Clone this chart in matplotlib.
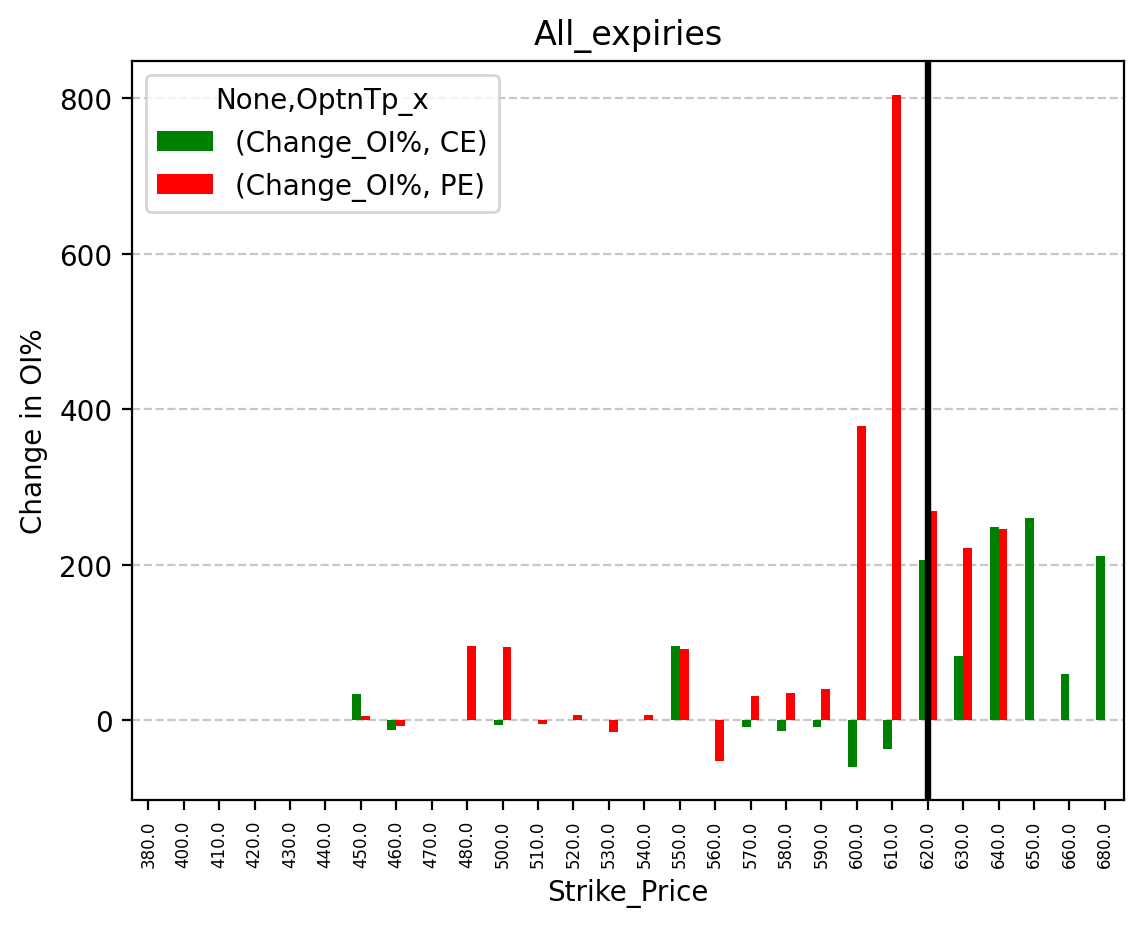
import numpy as np
import matplotlib
matplotlib.use("Agg")
import matplotlib.pyplot as plt

nan = np.nan

# strike prices (x categories)
strikes = [380.0, 400.0, 410.0, 420.0, 430.0, 440.0, 450.0, 460.0, 470.0, 480.0,
           500.0, 510.0, 520.0, 530.0, 540.0, 550.0, 560.0, 570.0, 580.0, 590.0,
           600.0, 610.0, 620.0, 630.0, 640.0, 650.0, 660.0, 680.0]

# Change in OI% for calls / puts
ce_chg = [nan, nan, nan, nan, nan, nan, 33, -13, nan, nan,
          -6, nan, nan, nan, nan, 95, nan, -9, -14, -9,
          -60, -37, 206, 82, 248, 260, 59, 211]
pe_chg = [nan, nan, nan, nan, nan, nan, 5, -7.5, nan, 95,
          94, -5, 6, -15, 6, 91.5, -52.5, 30.5, 35, 39.5,
          378, 805, 269, 221, 246, nan, nan, nan]

spot_strike = 620.0

fig = plt.figure(figsize=(5.715, 4.64), dpi=200)
ax = fig.add_axes([0.1155, 0.1366, 0.8679, 0.7966])

x = np.arange(len(strikes))
w = 0.25
ax.bar(x - w / 2, ce_chg, width=w, color="green", label="(Change_OI%, CE)")
ax.bar(x + w / 2, pe_chg, width=w, color="red", label="(Change_OI%, PE)")

ax.set_xticks(x)
ax.set_xticklabels([str(s) for s in strikes], rotation=90, fontsize=6)
ax.set_xlim(-0.46, len(strikes) - 0.46)

# vertical line at current strike
ax.axvline(strikes.index(spot_strike), color="black", linewidth=2.3)

ax.grid(axis="y", linestyle="--", alpha=0.7)
ax.set_axisbelow(True)

ax.set_title("All_expiries")
ax.set_xlabel("Strike_Price")
ax.set_ylabel("Change in OI%")
ax.legend(title="None,OptnTp_x", loc="upper left")

fig.savefig("out.png", dpi=200)
